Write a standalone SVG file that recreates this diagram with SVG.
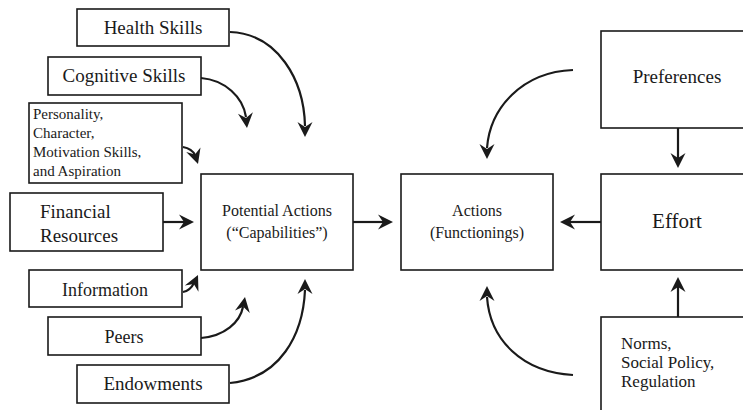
<svg xmlns="http://www.w3.org/2000/svg" width="743" height="410" viewBox="0 0 743 410">
  <style>
    .box { fill: #fff; stroke: #1a1a1a; stroke-width: 1.6; }
    .c { text-anchor: middle; }
    .lbl { font-family: "Liberation Serif", "Times New Roman", Times, serif; fill: #1a1a1a; }
    .edge { fill: none; stroke: #1a1a1a; stroke-width: 2.2; }
    .tip { fill: #1a1a1a; stroke: none; }
  </style>
  <defs>
    <!-- notched arrowhead, pointing along +x, tip at origin -->
    <path id="tip" class="tip" d="M0,0 L-15,-7.5 L-10,0 L-15,7.5 Z"/>
  </defs>

  <rect width="743" height="410" fill="#fff"/>

  <g id="connectors">
    <path class="edge" d="M230,32 C278,34 304,80 305,126"/>
    <use href="#tip" transform="translate(305,137) rotate(90)"/>
    <path class="edge" d="M201,78 C225,80 243,97 246,117"/>
    <use href="#tip" transform="translate(247,128) rotate(84)"/>
    <path class="edge" d="M183,147 C188,148 193,151 195,155"/>
    <use href="#tip" transform="translate(198,164) rotate(72)"/>
    <path class="edge" d="M163,222 L184,222"/>
    <use href="#tip" transform="translate(194,222)"/>
    <path class="edge" d="M353,222 L383,222"/>
    <use href="#tip" transform="translate(393,222)"/>
    <path class="edge" d="M183,292 C189,291 192,287 194,283"/>
    <use href="#tip" transform="translate(198,275) rotate(-65)"/>
    <path class="edge" d="M201,338 C225,336 240,322 243,307"/>
    <use href="#tip" transform="translate(245,297) rotate(-80)"/>
    <path class="edge" d="M230,383 C280,378 303,335 305,290"/>
    <use href="#tip" transform="translate(305,279) rotate(-90)"/>
    <path class="edge" d="M573,70 C522,72 490,108 487,148"/>
    <use href="#tip" transform="translate(487,159) rotate(90)"/>
    <path class="edge" d="M678,128 L678,158"/>
    <use href="#tip" transform="translate(678,168) rotate(90)"/>
    <path class="edge" d="M601,222 L570,222"/>
    <use href="#tip" transform="translate(560,222) rotate(180)"/>
    <path class="edge" d="M678,317 L678,287"/>
    <use href="#tip" transform="translate(678,277) rotate(-90)"/>
    <path class="edge" d="M573,375 C522,372 490,340 487,297"/>
    <use href="#tip" transform="translate(487,286) rotate(-90)"/>
  </g>

  <g id="health-skills">
    <rect class="box" x="77" y="9" width="152" height="37"/>
    <text class="lbl c" x="153" y="34" font-size="19">Health Skills</text>
  </g>
  <g id="cognitive-skills">
    <rect class="box" x="48" y="57" width="153" height="38"/>
    <text class="lbl c" x="124" y="82" font-size="19">Cognitive Skills</text>
  </g>
  <g id="personality">
    <rect class="box" x="29" y="103" width="153" height="80"/>
    <text class="lbl" x="33" y="119" font-size="15">Personality,</text>
    <text class="lbl" x="33" y="138" font-size="15">Character,</text>
    <text class="lbl" x="33" y="157" font-size="15">Motivation Skills,</text>
    <text class="lbl" x="33" y="176" font-size="15">and Aspiration</text>
  </g>
  <g id="financial-resources">
    <rect class="box" x="10" y="193" width="153" height="58"/>
    <text class="lbl" x="40" y="218" font-size="19">Financial</text>
    <text class="lbl" x="40" y="242" font-size="19">Resources</text>
  </g>
  <g id="information">
    <rect class="box" x="29" y="270" width="153" height="37"/>
    <text class="lbl c" x="105" y="296" font-size="18">Information</text>
  </g>
  <g id="peers">
    <rect class="box" x="48" y="317" width="153" height="38"/>
    <text class="lbl c" x="124" y="343" font-size="18">Peers</text>
  </g>
  <g id="endowments">
    <rect class="box" x="77" y="365" width="152" height="38"/>
    <text class="lbl c" x="153" y="390" font-size="19">Endowments</text>
  </g>
  <g id="potential-actions">
    <rect class="box" x="201" y="174" width="152" height="96"/>
    <text class="lbl c" x="277" y="216" font-size="16">Potential Actions</text>
    <text class="lbl c" x="277" y="238" font-size="16">(“Capabilities”)</text>
  </g>
  <g id="actions">
    <rect class="box" x="401" y="174" width="152" height="96"/>
    <text class="lbl c" x="477" y="216" font-size="16">Actions</text>
    <text class="lbl c" x="477" y="238" font-size="16">(Functionings)</text>
  </g>
  <g id="preferences">
    <rect class="box" x="601" y="31" width="150" height="97"/>
    <text class="lbl c" x="677" y="83" font-size="19">Preferences</text>
  </g>
  <g id="effort">
    <rect class="box" x="601" y="174" width="150" height="96"/>
    <text class="lbl c" x="677" y="228" font-size="21">Effort</text>
  </g>
  <g id="norms">
    <rect class="box" x="601" y="317" width="150" height="100"/>
    <text class="lbl" x="621" y="349" font-size="17">Norms,</text>
    <text class="lbl" x="621" y="368" font-size="17">Social Policy,</text>
    <text class="lbl" x="621" y="387" font-size="17">Regulation</text>
  </g>
</svg>
